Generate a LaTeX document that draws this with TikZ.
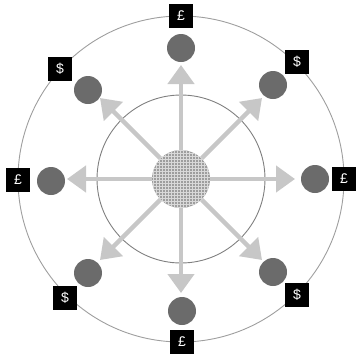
\documentclass[tikz,border=0pt]{standalone}
\usepackage{fontspec}
\setmainfont{Liberation Sans}
\usetikzlibrary{arrows.meta,patterns}
\begin{document}
\begin{tikzpicture}[x=1pt,y=-1pt,line width=.9pt,
  spoke/.style={draw=black!22,line width=4.5pt,-{Triangle[width=26pt,length=19pt]}},
  dot/.style={circle,fill=black!58,minimum size=28pt,inner sep=0pt},
  money/.style={fill=black,text=white,minimum size=24pt,inner sep=0pt,font=\fontsize{14}{14}\selectfont}]
  \path[use as bounding box] (0,0) rectangle (356,354);
  \draw[black!38] (181,179) circle[radius=163];
  \draw[black!50] (181,179) circle[radius=84];
  \node[circle,minimum size=58pt,inner sep=0pt,preaction={fill=black!38},pattern=grid,pattern color=black!15] (hub) at (181,179) {};
  \coordinate (tN) at (181,65);
  \coordinate (tNE) at (262,98);
  \coordinate (tE) at (295,179);
  \coordinate (tSE) at (262,260);
  \coordinate (tS) at (181,293);
  \coordinate (tSW) at (100,260);
  \coordinate (tW) at (67,179);
  \coordinate (tNW) at (100,98);
  \draw[spoke] (hub) -- (tN);
  \draw[spoke] (hub) -- (tNE);
  \draw[spoke] (hub) -- (tE);
  \draw[spoke] (hub) -- (tSE);
  \draw[spoke] (hub) -- (tS);
  \draw[spoke] (hub) -- (tSW);
  \draw[spoke] (hub) -- (tW);
  \draw[spoke] (hub) -- (tNW);
  \node[dot] (dN) at (181,48) {};
  \node[dot] (dNE) at (273,85) {};
  \node[dot] (dE) at (315,179) {};
  \node[dot] (dSE) at (273,272) {};
  \node[dot] (dS) at (182,311) {};
  \node[dot] (dSW) at (88,273) {};
  \node[dot] (dW) at (51,181) {};
  \node[dot] (dNW) at (88,90) {};
  \node[money] (mN) at (181,16) {£};
  \node[money] (mNE) at (297,62) {\$};
  \node[money] (mE) at (344,179) {£};
  \node[money] (mSE) at (297,295) {\$};
  \node[money] (mS) at (182,342) {£};
  \node[money] (mSW) at (65,298) {\$};
  \node[money] (mW) at (18,180) {£};
  \node[money] (mNW) at (60,69) {\$};
\end{tikzpicture}
\end{document}
